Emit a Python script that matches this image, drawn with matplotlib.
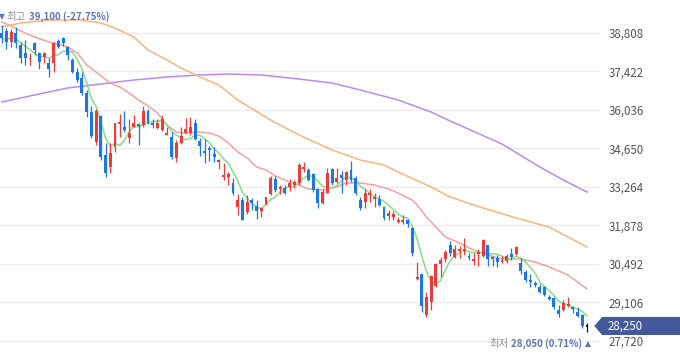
import numpy as np
import pandas as pd
import matplotlib
matplotlib.use("Agg")
import matplotlib.pyplot as plt
from matplotlib.patches import Polygon
from matplotlib.transforms import blended_transform_factory

plt.rcParams['font.family'] = ['Noto Sans CJK KR', 'DejaVu Sans']

# 일봉 데이터 (시가, 고가, 저가, 종가)
opens = [38797, 38869, 38473, 38797, 38365, 38077, 37879, 38437, 38077, 37933,
         37717, 37717, 38509, 38617, 38293, 37825, 37393, 37177, 36637, 35953,
         34873, 35809, 34405, 33973, 34693, 35557, 35413, 35017, 35413, 35521,
         35485, 35989, 35557, 35377, 35305, 35161, 35053, 34297, 34837, 35197,
         35197, 35557, 34909, 34549, 34657, 34441, 34153, 33613, 33613, 33397,
         32533, 32785, 32353, 32785, 32569, 32389, 32641, 33001, 33541, 33181,
         33217, 33253, 33325, 33397, 33937, 33865, 33721, 33181, 32677, 33037,
         33901, 33433, 33685, 33505, 33865, 33577, 32785, 32713, 32965, 32821,
         32821, 32533, 32209, 32173, 31993, 31993, 32065, 31777, 29941, 30121,
         28645, 29113, 29689, 30481, 30661, 31165, 30733, 30949, 30949, 30769,
         30589, 30877, 30769, 31165, 30733, 30697, 30553, 30589, 30841, 30841,
         30517, 30193, 29905, 29797, 29653, 29653, 29293, 29257, 28825, 28825,
         29005, 28933, 28753, 28645, 28250]
highs = [39100, 38977, 38941, 39013, 38473, 38545, 38077, 38473, 38113, 38113,
         37897, 38473, 38581, 38653, 38329, 37897, 37537, 37393, 36745, 36169,
         36061, 35845, 34837, 34837, 35557, 35881, 35989, 35701, 35845, 35557,
         36169, 36061, 35701, 35701, 35845, 35413, 35233, 34945, 35413, 35737,
         35773, 35701, 35017, 34981, 34729, 34693, 34261, 34117, 33793, 33577,
         33001, 32893, 32965, 32857, 32785, 32533, 32893, 33649, 33649, 33325,
         33325, 33541, 33505, 34117, 34153, 33937, 33757, 33217, 33181, 33937,
         33937, 33937, 33829, 33829, 34189, 33649, 32893, 33181, 33181, 33037,
         32965, 32569, 32425, 32389, 32173, 32245, 32101, 31813, 30553, 30121,
         29473, 30085, 30517, 30733, 30985, 31309, 31165, 31129, 31417, 30877,
         30877, 31021, 31381, 31165, 30769, 30805, 30769, 30841, 31057, 31129,
         30697, 30265, 30121, 29869, 29761, 29689, 29365, 29293, 29005, 29185,
         29293, 28969, 28933, 28681, 28357]
lows = [38437, 38221, 38293, 38257, 37717, 37645, 37645, 38005, 37501, 37717,
        37213, 37393, 38257, 38329, 37825, 37357, 37033, 36565, 35773, 35017,
        34765, 34225, 33613, 33757, 34513, 35053, 35233, 34837, 35413, 34765,
        35413, 35521, 35377, 35341, 35269, 35125, 34261, 34153, 34801, 35197,
        35125, 34945, 34369, 34117, 34189, 34153, 33901, 33505, 33325, 32965,
        32245, 32065, 32281, 32425, 32101, 32173, 32605, 32965, 33073, 33001,
        33001, 33109, 33217, 33325, 33793, 33469, 33073, 32497, 32641, 33037,
        33325, 33397, 33037, 33325, 33433, 32965, 32425, 32497, 32713, 32533,
        32569, 32065, 32065, 32065, 31957, 31921, 31813, 30769, 29905, 28753,
        28573, 28825, 29653, 30013, 30553, 30769, 30697, 30697, 30805, 30625,
        30445, 30409, 30733, 30409, 30409, 30373, 30517, 30517, 30625, 30805,
        30121, 29833, 29653, 29653, 29437, 29329, 29185, 28861, 28573, 28789,
        28933, 28717, 28573, 28177, 28050]
closes = [38617, 38473, 38833, 38437, 37897, 37897, 37915, 38185, 37753, 38077,
          37501, 38437, 38293, 38437, 38005, 37393, 37105, 36637, 35953, 35089,
          35989, 34333, 33757, 34477, 35557, 35593, 35305, 35197, 35557, 35485,
          35989, 35557, 35485, 35557, 35701, 35197, 34333, 34837, 35089, 35341,
          35413, 34981, 34729, 34513, 34585, 34333, 34225, 33685, 33721, 33037,
          32785, 32065, 32713, 32677, 32389, 32497, 32893, 33577, 33145, 33253,
          33037, 33397, 33433, 34045, 33973, 33505, 33145, 32677, 33073, 33757,
          33397, 33577, 33577, 33793, 33505, 33037, 32497, 33037, 33037, 32893,
          32605, 32137, 32317, 32281, 32065, 32065, 31921, 30877, 30013, 28969,
          29293, 30049, 30481, 30625, 30913, 30877, 31021, 31021, 31021, 30697,
          30661, 30913, 31345, 30661, 30661, 30553, 30625, 30769, 30733, 31093,
          30229, 29905, 29833, 29725, 29473, 29365, 29257, 28933, 28681, 29077,
          29041, 28897, 28609, 28250, 28250]

# 이동평균선
ma20_idx = [0, 2, 4, 7, 10, 14, 16, 18, 20, 23, 25, 27, 29, 31, 33, 35, 37, 39,
            42, 44, 46, 48, 50, 52, 54, 56, 58, 61, 63, 65, 68, 71, 73, 76, 79,
            82, 84, 87, 88, 90, 92, 94, 97, 99, 101, 103, 105, 107, 110, 113,
            116, 120, 124]
ma20 = [39193, 39049, 38869, 38653, 38473, 38293, 38077, 37645, 37393, 36997,
        36853, 36637, 36385, 36169, 35917, 35485, 35233, 35197, 35233, 35197,
        35089, 34837, 34513, 34297, 33973, 33865, 33649, 33433, 33325, 33181,
        33145, 33253, 33397, 33397, 33325, 33181, 33037, 32785, 32605, 32173,
        31813, 31453, 31237, 31057, 30913, 30805, 30697, 30661, 30661, 30553,
        30373, 30085, 29581]
ma60_idx = [0, 4, 10, 17, 21, 24, 28, 31, 35, 38, 42, 46, 50, 57, 63, 70, 76,
            81, 84, 91, 95, 102, 109, 116, 124]
ma60 = [39013, 39157, 39265, 39265, 39157, 38977, 38653, 38185, 37825, 37537,
        37213, 36925, 36385, 35665, 35125, 34585, 34225, 34045, 33793, 33253,
        32893, 32497, 32137, 31813, 31093]
ma120_idx = [0, 7, 14, 21, 28, 35, 42, 48, 55, 63, 70, 76, 84, 91, 95, 106, 114,
             119, 124]
ma120 = [36313, 36565, 36817, 36961, 37105, 37213, 37285, 37321, 37285, 37141,
         36997, 36745, 36385, 35953, 35629, 34801, 33973, 33505, 33073]

ticks = [27720, 29106, 30492, 31878, 33264, 34650, 36036, 37422, 38808]

UP = '#ee3a3a'
DOWN = '#1b77e6'
LABEL = '#5f75b4'

o = np.array(opens)
h = np.array(highs)
l = np.array(lows)
c = np.array(closes)
x = np.arange(len(c))
ma5 = pd.Series(c).rolling(5, min_periods=1).mean()

fig = plt.figure(figsize=(6.8, 3.58), dpi=100)
ax = fig.add_axes([0, 0, 600 / 680, 1])

ax.plot(ma120_idx, ma120, color='#b88cf2', lw=1.1, zorder=2)
ax.plot(ma60_idx, ma60, color='#f9b47c', lw=1.1, zorder=2)
ax.plot(ma20_idx, ma20, color='#f7a0a0', lw=1.1, zorder=2)
ax.plot(x, ma5, color='#86de86', lw=1.1, zorder=2)

colors = np.where(c > o, UP, np.where(c < o, DOWN, '#111111'))
ax.vlines(x, l, h, colors=colors, lw=0.9, zorder=3)
body_lo = np.minimum(o, c)
body_h = np.maximum(np.abs(c - o), 40)
ax.bar(x, body_h, bottom=body_lo - np.where(np.abs(c - o) < 40, 20, 0),
       width=0.62, color=colors, zorder=4)

ax.set_xlim(-0.36, 126.76)
ax.set_ylim(27097, 39985)
ax.set_yticks(ticks)
ax.set_yticklabels([f'{t:,}' for t in ticks])
ax.yaxis.tick_right()
ax.tick_params(axis='y', length=0, pad=6, labelsize=8.3, labelcolor='#555555')
ax.tick_params(axis='x', bottom=False, labelbottom=False)
ax.grid(axis='y', color='#ececec', lw=1)
ax.set_axisbelow(True)
for s in ax.spines.values():
    s.set_visible(False)

# 최고가 표시
imax = int(np.argmax(h))
ax.annotate('▼', (imax, h[imax]), xytext=(0, 8), textcoords='offset pixels',
            ha='center', va='center', fontsize=5.5, color=LABEL,
            family=['DejaVu Sans'], annotation_clip=False)
ax.annotate('최고', (imax, h[imax]), xytext=(5, 8), textcoords='offset pixels',
            ha='left', va='center', fontsize=7.5, color='#8a8d99')
ax.annotate(f'{h[imax]:,} ({(c[-1] - h[imax]) / h[imax] * 100:.2f}%)', (imax, h[imax]),
            xytext=(27, 8), textcoords='offset pixels', ha='left', va='center',
            fontsize=7, color=LABEL, fontweight='bold')

# 최저가 표시
imin = int(np.argmin(l))
ax.annotate('▲', (imin, l[imin]), xytext=(1, -12), textcoords='offset pixels',
            ha='center', va='center', fontsize=5.5, color=LABEL,
            family=['DejaVu Sans'], annotation_clip=False)
ax.annotate(f'{l[imin]:,} ({(c[-1] - l[imin]) / l[imin] * 100:.2f}%)', (imin, l[imin]),
            xytext=(-5, -12), textcoords='offset pixels', ha='right', va='center',
            fontsize=7, color=LABEL, fontweight='bold', annotation_clip=False)
ax.annotate('최저', (imin, l[imin]), xytext=(-78, -12), textcoords='offset pixels',
            ha='right', va='center', fontsize=7.5, color='#8a8d99',
            annotation_clip=False)

# 현재가 박스
tr = blended_transform_factory(ax.transAxes, ax.transData)
last = c[-1]
hh = 300
box = Polygon([(0.992, last), (1.004, last + hh), (1.14, last + hh),
               (1.14, last - hh), (1.004, last - hh)],
              closed=True, transform=tr, clip_on=False, color='#44599a', zorder=5)
ax.add_patch(box)
ax.text(1.013, last, f'{int(last):,}', transform=tr, ha='left', va='center',
        fontsize=8.3, color='white', zorder=6)

fig.savefig('out.png', dpi=100)
